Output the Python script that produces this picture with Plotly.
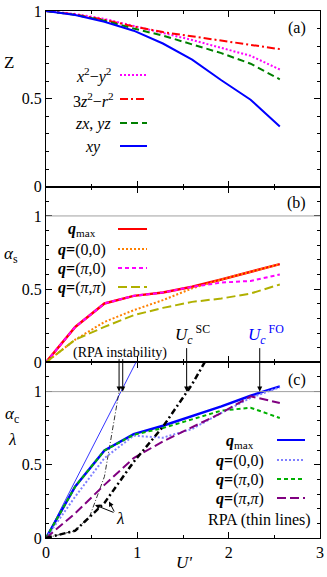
import plotly.graph_objects as go
from plotly.subplots import make_subplots

# ---------------- data ----------------
U = [0, 0.32, 0.64, 0.96, 1.28, 1.6, 1.92, 2.24, 2.56]

# panel (a) quasiparticle weight Z
z_x2y2 = [1, 0.983, 0.955, 0.915, 0.875, 0.835, 0.79, 0.745, 0.667]
z_3z2r2 = [1, 0.98, 0.95, 0.912, 0.88, 0.855, 0.83, 0.805, 0.783]
z_zxyz = [1, 0.978, 0.945, 0.90, 0.86, 0.81, 0.76, 0.70, 0.611]
z_xy = [1, 0.977, 0.939, 0.888, 0.815, 0.723, 0.606, 0.495, 0.343]

# panel (b) alpha_s
as_qmax = [0, 0.242, 0.402, 0.454, 0.477, 0.516, 0.566, 0.619, 0.671]
as_00 = [0, 0.155, 0.276, 0.356, 0.425, 0.505, 0.566, 0.619, 0.671]
as_pi0 = [0, 0.242, 0.402, 0.454, 0.477, 0.516, 0.545, 0.556, 0.60]
as_pipi = [0, 0.155, 0.242, 0.322, 0.372, 0.413, 0.436, 0.47, 0.532]

# panel (c) alpha_c and lambda
ac_qmax = [0, 0.352, 0.598, 0.710, 0.767, 0.831, 0.899, 0.972, 1.036]
ac_00 = [0, 0.283, 0.546, 0.699, 0.685, 0.745, 0.854, 0.957, 1.03]
ac_pi0 = [0, 0.352, 0.598, 0.705, 0.751, 0.808, 0.87, 0.89, 0.82]
ac_pipi = [0, 0.169, 0.363, 0.546, 0.66, 0.758, 0.854, 0.968, 0.922]
U_lam = [0, 0.32, 0.64, 0.96, 1.28, 1.6, 1.92]
lam = [0, 0.05, 0.24, 0.52, 0.76, 1.05, 1.4]

# RPA (thin lines)
U_rpa = [0, 0.32, 0.64, 0.96, 1.28]
rpa_ac = [0, 0.39, 0.78, 1.17, 1.56]
U_rpa_lam = [0, 0.32, 0.48, 0.64, 0.8]
rpa_lam = [0, 0.05, 0.15, 0.42, 1.0]

x_ticks = [0, 1, 2, 3]
y_ticks = [0, 0.5, 1]
y_ticklabels = ["0", "0.5", "1"]

# ---------------- figure ----------------
W, H = 327, 577
ML, MR, MT, MB = 46, 7, 11, 39
PW, PH = W - ML - MR, H - MT - MB
FONT = "Liberation Serif, Times New Roman, Times, serif"


def px2x(px):
    return (px - ML) / PW


def py2y(py):
    return (H - MB - py) / PH


fig = make_subplots(rows=3, cols=1, shared_xaxes=True, vertical_spacing=0)


def add(row, x, y, color, width=2, dash="solid"):
    fig.add_trace(go.Scatter(x=x, y=y, mode="lines", showlegend=False,
                             line=dict(color=color, width=width, dash=dash),
                             hoverinfo="skip"), row=row, col=1)


# panel a
add(1, U, z_x2y2, "#ff00ff", 2, "2px,2px")
add(1, U, z_3z2r2, "#ff0000", 2, "8px,3px,2px,3px")
add(1, U, z_zxyz, "#008000", 2, "7px,4px")
add(1, U, z_xy, "#0000ff", 2)

# panel b
add(2, U, as_qmax, "#ff0000", 2.5)
add(2, U, as_00, "#ff8000", 2, "2px,2px")
add(2, U, as_pi0, "#ff00ff", 2, "4px,3px")
add(2, U, as_pipi, "#b0b000", 2, "9px,4px")

# panel c
add(3, U_rpa, rpa_ac, "#0000ff", 0.8)
add(3, U_rpa_lam, rpa_lam, "#000000", 0.8, "5px,2px,1px,2px")
add(3, U, ac_qmax, "#0000ff", 2.5)
add(3, U, ac_00, "#8080ff", 2, "2px,2px")
add(3, U, ac_pi0, "#00b000", 2, "4px,3px")
add(3, U, ac_pipi, "#800080", 2, "9px,4px")
add(3, U_lam, lam, "#000000", 2.5, "6px,3px,2px,3px")

axis_common = dict(showline=True, linecolor="black", linewidth=1, mirror="ticks",
                   ticks="inside", ticklen=6, tickwidth=1, tickcolor="black",
                   showgrid=False, zeroline=False, automargin=False,
                   tickfont=dict(family=FONT, size=16, color="black"))

for r in (1, 2, 3):
    fig.update_xaxes(range=[0, 3], tickvals=x_ticks, showticklabels=(r == 3),
                     minor=dict(dtick=0.5, tick0=0, ticks="inside", ticklen=3,
                                tickcolor="black", showgrid=False),
                     **axis_common, row=r, col=1)
    fig.update_yaxes(range=[0, 1] if r == 1 else [0, 1.2],
                     tickvals=y_ticks, ticktext=y_ticklabels,
                     minor=dict(dtick=0.1, tick0=0, ticks="inside", ticklen=3,
                                tickcolor="black", showgrid=False),
                     **axis_common, row=r, col=1)

# horizontal reference lines at 1
for r in (2, 3):
    fig.add_hline(y=1, line=dict(color="#a0a0a0", width=1), row=r, col=1)

ann = []
shapes = []


def text(px, py, s, size=16, color="black", xanchor="center"):
    ann.append(dict(x=px2x(px), y=py2y(py), xref="paper", yref="paper", text=s,
                    showarrow=False, xanchor=xanchor, yanchor="middle",
                    font=dict(family=FONT, size=size, color=color)))


def key(x0, x1, py, color, width=2, dash="solid"):
    shapes.append(dict(type="line", xref="paper", yref="paper",
                       x0=px2x(x0), x1=px2x(x1), y0=py2y(py), y1=py2y(py),
                       line=dict(color=color, width=width, dash=dash)))


# panel labels
text(297, 28, "(a)")
text(296, 203, "(b)")
text(297, 380, "(c)")

# y-axis titles
text(9, 62, "Z", 17)
text(11, 255, "<i>α</i><sub>s</sub>", 17)
text(12, 415, "<i>α</i><sub>c</sub>", 17)
text(12, 439, "<i>λ</i>", 17)
# x-axis title
text(184, 562, "<i>U'</i>", 17)

# legend panel a
leg_a = [("<i>x</i><sup>2</sup>−<i>y</i><sup>2</sup>", 75, "#ff00ff", "2px,2px"),
         ("3<i>z</i><sup>2</sup>−<i>r</i><sup>2</sup>", 99, "#ff0000", "8px,3px,2px,3px"),
         ("<i>zx</i>, <i>yz</i>", 123, "#008000", "7px,4px"),
         ("<i>xy</i>", 146, "#0000ff", "solid")]
for s, py, c, d in leg_a:
    text(93, py + 1, s, 16)
    key(120, 147, py, c, 2, d)

# legend panel b
leg_b = [("<b><i>q</i></b><sub>max</sub>", 229, "#ff0000", "solid"),
         ("<b><i>q</i>=</b>(0,0)", 249, "#ff8000", "2px,2px"),
         ("<b><i>q</i>=</b>(<i>π</i>,0)", 268, "#ff00ff", "4px,3px"),
         ("<b><i>q</i>=</b>(<i>π</i>,<i>π</i>)", 287, "#b0b000", "9px,4px")]
for s, py, c, d in leg_b:
    text(82, py + 1, s, 16)
    key(118, 147, py, c, 2, d)

# legend panel c
leg_c = [("<b><i>q</i></b><sub>max</sub>", 440, "#0000ff", "solid"),
         ("<b><i>q</i>=</b>(0,0)", 460, "#8080ff", "2px,2px"),
         ("<b><i>q</i>=</b>(<i>π</i>,0)", 479, "#00b000", "4px,3px"),
         ("<b><i>q</i>=</b>(<i>π</i>,<i>π</i>)", 498, "#800080", "9px,4px")]
for s, py, c, d in leg_c:
    text(240, py + 1, s, 16)
    key(277, 305, py, c, 2, d)
text(313, 520, "RPA (thin lines)", 16, xanchor="right")

# instability / critical labels
text(120, 353, "(RPA instability)", 14)
text(192, 334, "<i>U</i><sub><i>c</i></sub><sup> SC</sup>", 17)
text(266, 334, "<i>U</i><sub><i>c</i></sub><sup> FO</sup>", 17, color="#0000ff")
text(120, 518, "<i>λ</i>", 17)

# vertical arrows to the alpha=1 line
for ux, ay in ((0.80, -34), (0.84, -34), (1.54, -45), (2.34, -45)):
    ann.append(dict(x=ux, y=1, xref="x3", yref="y3", text="", showarrow=True,
                    ax=0, ay=ay, arrowhead=2, arrowsize=1, arrowwidth=1,
                    arrowcolor="black"))

# arrows from lambda label
for tx, ty in ((95, 505), (109, 501.5)):
    ann.append(dict(x=px2x(tx), y=py2y(ty), xref="paper", yref="paper", text="",
                    showarrow=True, ax=115 - tx, ay=513 - ty, arrowhead=2,
                    arrowsize=1, arrowwidth=1, arrowcolor="black"))

fig.update_layout(width=W, height=H, margin=dict(l=ML, r=MR, t=MT, b=MB),
                  paper_bgcolor="white", plot_bgcolor="white",
                  annotations=list(fig.layout.annotations) + ann,
                  font=dict(family=FONT, size=16, color="black"))
for s in shapes:
    fig.add_shape(**s)

fig.write_html("out.html", config={"displayModeBar": False},
               post_script="document.body.style.margin='0';document.body.style.overflow='hidden';")
